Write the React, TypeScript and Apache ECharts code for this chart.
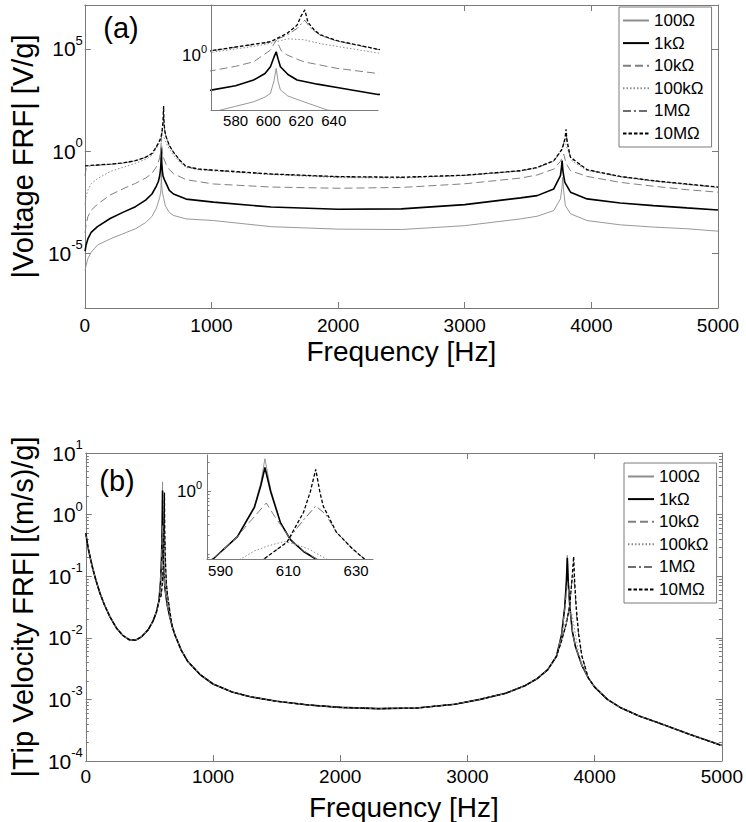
import React, { useEffect, useRef } from 'react';
import * as echarts from 'echarts';

type P = [number, number];

// Load resistances (legend / series names)
const RES = ['100Ω', '1kΩ', '10kΩ', '100kΩ', '1MΩ', '10MΩ'];

// ---------- (a) Voltage FRF : [frequency Hz, log10 |V/g|] ----------
const volt100: P[] = [[2,-5.85],[10,-5.6],[25,-5.25],[50,-4.95],[100,-4.6],[200,-4.3],[300,-4.05],[400,-3.8],[480,-3.5],[530,-3.2],[565,-2.8],[571,-2.68],[580,-2.5],[591,-2.28],[598,-2.05],[601.3,-1.87],[603.5,-1.25],[604.8,-0.65],[606,-1.3],[607.4,-1.7],[612,-2.0],[621.7,-2.28],[636,-2.68],[667,-3.0],[700,-3.15],[800,-3.32],[1016,-3.4],[1472,-3.7],[2000,-3.82],[2500,-3.84],[3000,-3.65],[3441,-3.32],[3572,-3.19],[3703,-2.91],[3756,-2.34],[3768,-1.8],[3774,-1.28],[3782,-2.0],[3795,-2.67],[3835,-3.07],[3966,-3.4],[4228,-3.61],[4491,-3.72],[4753,-3.8],[5000,-3.92]];
const volt1k: P[] = [[2,-4.9],[10,-4.6],[25,-4.28],[50,-3.98],[100,-3.7],[200,-3.3],[300,-3.0],[400,-2.72],[480,-2.4],[530,-2.1],[565,-1.71],[580,-1.5],[591,-1.22],[598,-0.9],[601.3,-0.57],[603.5,-0.1],[604.8,0.16],[606,-0.2],[607.4,-0.57],[612,-0.95],[617.6,-1.22],[630,-1.42],[642,-1.58],[667,-1.92],[700,-2.1],[800,-2.35],[1016,-2.5],[1472,-2.74],[2000,-2.85],[2500,-2.83],[3000,-2.62],[3441,-2.29],[3572,-2.18],[3703,-1.85],[3756,-1.2],[3764,-0.8],[3769,-0.47],[3776,-1.0],[3790,-1.52],[3835,-2.01],[3966,-2.34],[4228,-2.54],[4491,-2.67],[4753,-2.78],[5000,-2.88]];
const volt10k: P[] = [[2,-4.0],[10,-3.6],[25,-3.2],[50,-2.9],[100,-2.6],[200,-2.15],[300,-1.85],[400,-1.58],[480,-1.32],[530,-1.1],[565,-0.77],[580,-0.55],[591,-0.33],[601.3,0.24],[604.8,0.73],[608,0.2],[611.5,0.0],[621.7,-0.33],[642,-0.65],[667,-0.9],[700,-1.1],[800,-1.4],[1016,-1.61],[1472,-1.76],[2000,-1.82],[2500,-1.78],[3000,-1.6],[3441,-1.32],[3572,-1.17],[3703,-0.88],[3756,-0.5],[3782,-0.15],[3800,-0.6],[3835,-0.96],[3966,-1.24],[4228,-1.53],[4491,-1.72],[4753,-1.89],[5000,-2.01]];
const volt100k: P[] = [[2,-2.6],[10,-2.2],[25,-1.9],[50,-1.6],[100,-1.35],[200,-1.0],[300,-0.8],[400,-0.6],[480,-0.4],[530,-0.2],[565,0.13],[591,0.42],[601.3,0.57],[605,0.65],[611.5,0.79],[621.7,0.75],[632,0.55],[642,0.42],[667,0.1],[700,-0.2],[750,-0.55],[800,-0.8],[900,-0.92],[1016,-0.97],[1472,-1.15],[2000,-1.3],[2500,-1.32],[3000,-1.2],[3441,-0.98],[3572,-0.83],[3703,-0.5],[3760,0.0],[3790,0.5],[3810,0.1],[3850,-0.5],[3966,-0.95],[4228,-1.27],[4491,-1.48],[4753,-1.64],[5000,-1.78]];
const volt1M: P[] = [[2,-1.2],[10,-0.85],[25,-0.75],[50,-0.71],[100,-0.69],[200,-0.65],[300,-0.59],[400,-0.48],[480,-0.31],[530,-0.13],[565,0.2],[601.3,0.63],[611.5,0.98],[617.6,1.3],[622.3,1.7],[626,1.3],[632,0.95],[642,0.68],[667,0.27],[700,-0.06],[750,-0.46],[800,-0.76],[900,-0.89],[1016,-0.94],[1472,-1.13],[2000,-1.26],[2500,-1.29],[3000,-1.19],[3441,-0.97],[3572,-0.81],[3703,-0.48],[3769,0.05],[3800,0.9],[3815,0.15],[3835,-0.32],[3966,-0.92],[4228,-1.25],[4491,-1.46],[4753,-1.62],[5000,-1.77]];
const volt10M: P[] = [[2,-0.72],[50,-0.7],[100,-0.68],[200,-0.64],[300,-0.58],[400,-0.47],[480,-0.3],[530,-0.12],[565,0.21],[601.3,0.65],[611.5,1.06],[617.6,1.46],[619.8,1.87],[622.3,2.2],[624.2,1.6],[628,1.22],[632,0.98],[642,0.7],[667,0.28],[700,-0.05],[750,-0.45],[800,-0.75],[900,-0.88],[1016,-0.93],[1472,-1.12],[2000,-1.25],[2500,-1.28],[3000,-1.18],[3441,-0.96],[3572,-0.8],[3703,-0.47],[3769,0.1],[3792,0.6],[3800,1.07],[3808,0.5],[3835,-0.3],[3966,-0.91],[4228,-1.24],[4491,-1.45],[4753,-1.61],[5000,-1.76]];
const VOLT = [volt100, volt1k, volt10k, volt100k, volt1M, volt10M];

// ---------- (b) Tip velocity FRF : [frequency Hz, log10 |(m/s)/g|] ----------
const velLow: P[] = [[1,-0.3],[8,-0.42],[20,-0.56],[35,-0.7],[55,-0.88],[80,-1.07],[110,-1.27],[145,-1.46],[190,-1.66],[240,-1.84],[290,-1.96],[340,-2.03],[390,-2.04],[440,-1.98],[490,-1.87],[530,-1.72],[555,-1.58],[575,-1.4]];
const velRes1: P[][] = [
  [[587.8,-1.08],[595,-0.71],[600,-0.23],[601.9,0.15],[603.1,0.53],[604.8,0.04],[607.7,-0.49],[610.6,-0.76],[614.5,-0.95],[618.4,-1.08],[625,-1.24],[640,-1.47],[660,-1.66]],
  [[587.8,-1.08],[595,-0.72],[600,-0.25],[601.9,0.1],[603.1,0.39],[604.8,0.0],[607.7,-0.5],[610.6,-0.77],[614.5,-0.96],[618.4,-1.09],[625,-1.24],[640,-1.47],[660,-1.66]],
  [[587.8,-1.08],[595,-0.72],[598,-0.52],[600,-0.4],[603.5,-0.18],[606,-0.4],[608,-0.55],[610.6,-0.76],[614.5,-0.95],[618.4,-1.08],[625,-1.24],[640,-1.47],[660,-1.66]],
  [[585,-1.35],[596,-1.08],[600,-0.95],[604,-0.87],[608.7,-0.8],[612,-0.84],[616,-0.92],[621.3,-1.08],[630,-1.25],[640,-1.42],[660,-1.62]],
  [[590,-1.33],[598,-1.2],[602.8,-1.08],[609.6,-0.81],[612,-0.62],[615,-0.42],[618.1,-0.23],[621,-0.36],[624.2,-0.65],[629,-0.92],[632.5,-1.08],[640,-1.27],[660,-1.56]],
  [[590,-1.33],[598,-1.2],[602.8,-1.08],[609.6,-0.81],[614.5,-0.33],[616.5,0.0],[618.1,0.36],[619.3,0.0],[620.3,-0.23],[624.2,-0.65],[629,-0.92],[632.5,-1.08],[640,-1.27],[660,-1.56]],
];
const velMid: P[] = [[680,-1.82],[700,-1.95],[750,-2.2],[800,-2.38],[900,-2.6],[1000,-2.75],[1150,-2.88],[1300,-2.96],[1500,-3.03],[1750,-3.09],[2000,-3.13],[2300,-3.15],[2600,-3.14],[2900,-3.08],[3100,-3.0],[3300,-2.9],[3450,-2.78],[3550,-2.66],[3630,-2.52],[3700,-2.3]];
const velRes2: P[][] = [
  [[3740,-1.95],[3765,-1.5],[3778,-1.05],[3785,-0.66],[3792,-1.05],[3805,-1.5],[3825,-1.9],[3850,-2.15],[3900,-2.45]],
  [[3740,-1.95],[3765,-1.5],[3778,-1.08],[3785,-0.7],[3792,-1.08],[3805,-1.5],[3825,-1.9],[3850,-2.15],[3900,-2.45]],
  [[3740,-1.95],[3765,-1.55],[3778,-1.25],[3787,-1.1],[3797,-1.3],[3810,-1.6],[3830,-1.95],[3850,-2.15],[3900,-2.45]],
  [[3740,-2.0],[3770,-1.75],[3800,-1.55],[3820,-1.6],[3845,-1.9],[3870,-2.2],[3900,-2.45]],
  [[3740,-2.05],[3780,-1.75],[3805,-1.45],[3822,-1.05],[3835,-1.0],[3845,-1.25],[3860,-1.7],[3880,-2.05],[3900,-2.3]],
  [[3740,-2.05],[3780,-1.75],[3805,-1.45],[3822,-1.05],[3835,-0.68],[3842,-1.05],[3855,-1.5],[3875,-1.95],[3900,-2.3]],
];
const velHigh: P[] = [[3950,-2.65],[4000,-2.8],[4100,-3.0],[4200,-3.13],[4350,-3.27],[4500,-3.38],[4750,-3.57],[5000,-3.75]];

// tick values
const freqTicksInsetA = [580, 600, 620, 640];
const freqTicksInsetB = [590, 610, 630];
const voltExpTicks = [-5, 0, 5];
const unitExpTick = [0];

const FONT = '"Liberation Sans", Arial, Helvetica, sans-serif';
const GRAY = '#7a7a7a';

const STYLE: Record<string, { color: string; width: number; type: any }> = {
  '100Ω': { color: '#8c8c8c', width: 0.9, type: 'solid' },
  '1kΩ': { color: '#000000', width: 1.6, type: 'solid' },
  '10kΩ': { color: '#808080', width: 1, type: [8, 4] },
  '100kΩ': { color: '#8c8c8c', width: 1, type: [1.5, 2] },
  '1MΩ': { color: '#6e6e6e', width: 1, type: [8, 3, 2, 3] },
  '10MΩ': { color: '#000000', width: 1.3, type: [3.5, 2] },
};

const minorExp = (lo: number, hi: number) => {
  const out: number[] = [];
  for (let n = Math.floor(lo); n <= Math.ceil(hi); n++) {
    for (let k = 1; k <= 9; k++) {
      const v = n + Math.log10(k);
      if (v >= lo - 1e-9 && v <= hi + 1e-9) out.push(v);
    }
  }
  return out;
};

const supFormatter = (v: number) => `{b|10}{s|${Math.round(v)}}`;
const plainFormatter = (v: number) => String(v);
const supRich = (b: number, s: number, lh: number) => ({
  b: { fontSize: b, lineHeight: lh, fontFamily: FONT, color: '#000' },
  s: { fontSize: s, lineHeight: s, verticalAlign: 'top', fontFamily: FONT, color: '#000' },
});

const line = { show: true, onZero: false, lineStyle: { color: GRAY, width: 1 } };
const noSplit = { show: false };

export default function App() {
  const ref = useRef<HTMLDivElement>(null);
  useEffect(() => {
    if (!ref.current) return;
    const chart = echarts.init(ref.current, undefined, { renderer: 'svg' });

    const mk = (name: string, data: P[], xi: number, yi: number, z: number) => ({
      type: 'line', name, data, xAxisIndex: xi, yAxisIndex: yi,
      symbol: 'none', showSymbol: false, clip: true, z, silent: true,
      lineStyle: { color: STYLE[name].color, width: STYLE[name].width, type: STYLE[name].type },
      itemStyle: { color: STYLE[name].color },
      emphasis: { disabled: true },
    });

    const VEL = RES.map((_, i) => [...velLow, ...velRes1[i], ...velMid, ...velRes2[i], ...velHigh] as P[]);

    const series: any[] = [];
    RES.forEach((n, i) => series.push(mk(n, VOLT[i], 0, 0, 2)));
    RES.forEach((n, i) => series.push(mk(n, VOLT[i], 2, 2, 20)));
    RES.forEach((n, i) => series.push(mk(n, VEL[i], 3, 3, 2)));
    RES.forEach((n, i) => series.push(mk(n, VEL[i], 5, 7, 20)));

    const tickIn = (len: number, extra: any = {}) => ({ show: true, inside: true, length: len, lineStyle: { color: GRAY, width: 1 }, ...extra });

    const legendBase = {
      data: RES, orient: 'vertical', itemWidth: 26, itemHeight: 12, itemGap: 5.6,
      padding: [5, 8, 5, 3], borderColor: GRAY, borderWidth: 1, backgroundColor: '#fff',
      textStyle: { fontSize: 17, lineHeight: 17, fontFamily: FONT, color: '#000' },
      itemStyle: { opacity: 0 }, selectedMode: false, z: 40,
    };

    const option: any = {
      animation: false,
      backgroundColor: '#ffffff',
      textStyle: { fontFamily: FONT },
      grid: [
        { left: 83, top: 5, width: 635, height: 303 },
        { left: 211, top: 5, width: 167, height: 105 },
        { left: 78, top: 453, width: 645, height: 312 },
        { left: 207, top: 455, width: 166, height: 104 },
      ],
      legend: [
        { ...legendBase, left: 619, top: 7 },
        { ...legendBase, left: 624, top: 463 },
      ],
      xAxis: [
        { gridIndex: 0, type: 'value', min: 0, max: 5000, interval: 1000, position: 'bottom', axisLine: line, axisTick: tickIn(6), splitLine: noSplit,
          axisLabel: { fontSize: 19, color: '#000', margin: 8, fontFamily: FONT, formatter: plainFormatter },
          name: 'Frequency [Hz]', nameLocation: 'middle', nameGap: 29, nameTextStyle: { fontSize: 28, color: '#000', fontFamily: FONT } },
        { gridIndex: 0, type: 'value', min: 0, max: 5000, interval: 1000, position: 'top', axisLine: line, axisTick: tickIn(6), axisLabel: { show: false }, splitLine: noSplit },
        { gridIndex: 1, type: 'value', min: 565, max: 667, position: 'bottom', axisLine: line, axisTick: { show: false }, splitLine: noSplit, z: 30,
          axisLabel: { customValues: freqTicksInsetA, fontSize: 15, color: '#000', margin: 3, fontFamily: FONT, formatter: plainFormatter } },
        { gridIndex: 2, type: 'value', min: 0, max: 5000, interval: 1000, position: 'bottom', axisLine: line, axisTick: tickIn(6), splitLine: noSplit,
          axisLabel: { fontSize: 19, color: '#000', margin: 6, fontFamily: FONT, formatter: plainFormatter },
          name: 'Frequency [Hz]', nameLocation: 'middle', nameGap: 32, nameTextStyle: { fontSize: 28, color: '#000', fontFamily: FONT } },
        { gridIndex: 2, type: 'value', min: 0, max: 5000, interval: 1000, position: 'top', axisLine: line, axisTick: tickIn(6), axisLabel: { show: false }, splitLine: noSplit },
        { gridIndex: 3, type: 'value', min: 586, max: 635, position: 'bottom', axisLine: line, axisTick: { show: false }, splitLine: noSplit, z: 30,
          axisLabel: { customValues: freqTicksInsetB, fontSize: 15, color: '#000', margin: 4, fontFamily: FONT, formatter: plainFormatter } },
      ],
      yAxis: [
        { gridIndex: 0, type: 'value', min: -7.68, max: 7.15, position: 'left', axisLine: line, splitLine: noSplit,
          axisTick: tickIn(6, { customValues: voltExpTicks }),
          axisLabel: { customValues: voltExpTicks, formatter: supFormatter, rich: supRich(21, 13, 30), margin: 2 },
          name: '|Voltage FRF| [V/g]', nameLocation: 'middle', nameGap: 46, nameTextStyle: { fontSize: 29, color: '#000', fontFamily: FONT } },
        { gridIndex: 0, type: 'value', min: -7.68, max: 7.15, position: 'right', axisLine: line, splitLine: noSplit,
          axisTick: tickIn(6, { customValues: voltExpTicks }), axisLabel: { show: false } },
        { gridIndex: 1, type: 'value', min: -2.68, max: 2.44, position: 'left', axisLine: line, splitLine: noSplit, z: 30,
          axisTick: { show: false },
          axisLabel: { customValues: unitExpTick, formatter: supFormatter, rich: supRich(17, 11, 24), margin: 4 } },
        { gridIndex: 2, type: 'value', min: -4, max: 1, interval: 1, position: 'left', axisLine: line, splitLine: noSplit,
          axisTick: tickIn(6),
          axisLabel: { formatter: supFormatter, rich: supRich(21, 13, 30), margin: 3 },
          name: '|Tip Velocity FRF| [(m/s)/g]', nameLocation: 'middle', nameGap: 42, nameTextStyle: { fontSize: 29, color: '#000', fontFamily: FONT } },
        { gridIndex: 2, type: 'value', min: -4, max: 1, position: 'left', axisLine: { show: false, onZero: false }, splitLine: noSplit,
          axisTick: tickIn(3, { customValues: minorExp(-4, 1) }), axisLabel: { show: false } },
        { gridIndex: 2, type: 'value', min: -4, max: 1, interval: 1, position: 'right', axisLine: line, splitLine: noSplit,
          axisTick: tickIn(6), axisLabel: { show: false } },
        { gridIndex: 2, type: 'value', min: -4, max: 1, position: 'right', axisLine: { show: false, onZero: false }, splitLine: noSplit,
          axisTick: tickIn(3, { customValues: minorExp(-4, 1) }), axisLabel: { show: false } },
        { gridIndex: 3, type: 'value', min: -1.08, max: 0.59, position: 'left', axisLine: line, splitLine: noSplit, z: 30,
          axisTick: tickIn(4, { customValues: unitExpTick }),
          axisLabel: { customValues: unitExpTick, formatter: supFormatter, rich: supRich(17, 11, 24), margin: 5 } },
        { gridIndex: 3, type: 'value', min: -1.08, max: 0.59, position: 'left', axisLine: { show: false, onZero: false }, splitLine: noSplit, z: 30,
          axisTick: tickIn(2.5, { customValues: minorExp(-1.08, 0.59) }), axisLabel: { show: false } },
      ],
      graphic: [
        { type: 'rect', shape: { x: 211, y: 6, width: 168, height: 104 }, style: { fill: '#fff' }, z: 10, silent: true },
        { type: 'rect', shape: { x: 207, y: 454, width: 167, height: 105 }, style: { fill: '#fff' }, z: 10, silent: true },
        { type: 'text', x: 121, y: 28, z: 30, style: { text: '(a)', fontSize: 29, fontFamily: FONT, fill: '#000', textAlign: 'center', textVerticalAlign: 'middle', align: 'center', verticalAlign: 'middle' } },
        { type: 'text', x: 117, y: 481, z: 30, style: { text: '(b)', fontSize: 29, fontFamily: FONT, fill: '#000', textAlign: 'center', textVerticalAlign: 'middle', align: 'center', verticalAlign: 'middle' } },
      ],
      series,
    };
    chart.setOption(option);
    return () => chart.dispose();
  }, []);
  return <div ref={ref} style={{ position: 'absolute', left: 0, top: 0, width: 746, height: 822 }} />;
}
